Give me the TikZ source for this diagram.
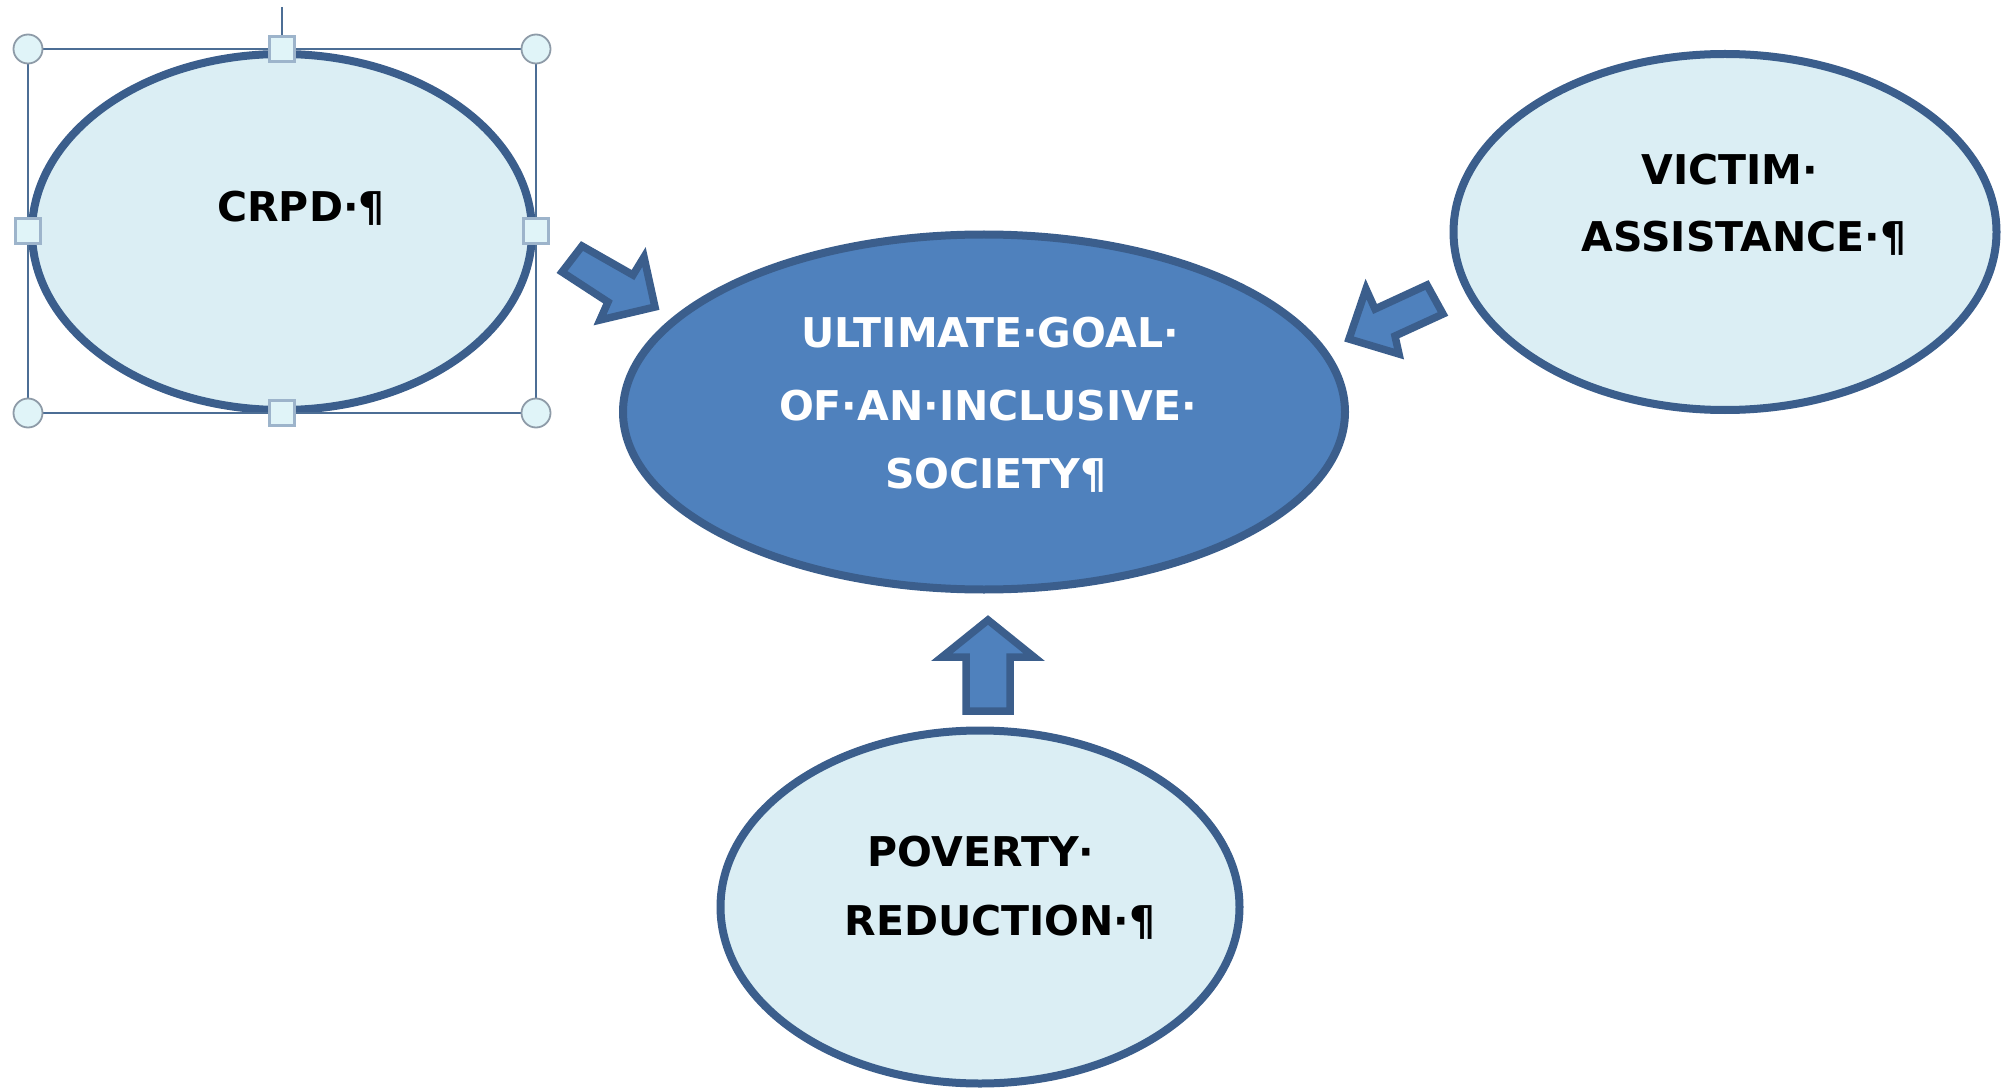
\documentclass[tikz,border=0pt]{standalone}
\usepackage{fontspec}
\setmainfont{DejaVu Sans}
\usetikzlibrary{shapes.geometric}
\definecolor{lightfill}{HTML}{DBEEF4}
\definecolor{edgeblue}{HTML}{3B5E8C}
\definecolor{midblue}{HTML}{4F81BD}
\definecolor{selline}{HTML}{4C6E95}
\definecolor{handlefill}{HTML}{E0F4F8}
\definecolor{handleedge}{HTML}{8E9BA8}
\definecolor{sqedge}{HTML}{9DB4CB}
\begin{document}
\begin{tikzpicture}[x=1pt,y=-1pt,
  bubble/.style={ellipse, draw=edgeblue, line width=8pt, fill=lightfill, inner sep=0pt},
  goalbubble/.style={ellipse, draw=edgeblue, line width=8pt, fill=midblue, inner sep=0pt},
  lbl/.style={anchor=base, inner sep=0pt, font=\fontsize{41}{49}\selectfont\bfseries},
  blockarrow/.style={draw=edgeblue, fill=midblue, line width=7.5pt, line join=miter},
  selbox/.style={draw=selline, line width=2.5pt},
  cornerhandle/.style={circle, draw=handleedge, fill=handlefill, line width=1.8pt, minimum size=29pt, inner sep=0pt},
  sidehandle/.style={rectangle, draw=sqedge, fill=handlefill, line width=2.2pt, minimum width=25pt, minimum height=25pt, inner sep=0pt}
]
\useasboundingbox (0,0) rectangle (2011,1091);

% ellipses
\node[bubble, minimum width=500pt, minimum height=356pt] (crpd) at (282,232) {};
\node[goalbubble, minimum width=722pt, minimum height=355pt] (goal) at (984,412) {};
\node[bubble, minimum width=543pt, minimum height=356pt] (victim) at (1725,232) {};
\node[bubble, minimum width=519pt, minimum height=353pt] (poverty) at (980,907) {};

% texts
\node[lbl] (tcrpd) at (301,222) {CRPD·¶};
\node[lbl, text=white] (tgoal1) at (990,348) {ULTIMATE·GOAL·};
\node[lbl, text=white] (tgoal2) at (988,420) {OF·AN·INCLUSIVE·};
\node[lbl, text=white] (tgoal3) at (996,488) {SOCIETY¶};
\node[lbl] (tvic1) at (1730,185) {VICTIM·};
\node[lbl] (tvic2) at (1744,252) {ASSISTANCE·¶};
\node[lbl] (tpov1) at (981,866) {POVERTY·};
\node[lbl] (tpov2) at (1000,935) {REDUCTION·¶};

% block arrows
\draw[blockarrow] (582,246) -- (633,275) -- (644,257) -- (655,307) -- (600,320) -- (608,302) -- (562,272) -- cycle;
\draw[blockarrow] (1427,285) -- (1443,314) -- (1395,336) -- (1399,354) -- (1349,339) -- (1366,289) -- (1375,309) -- cycle;
\draw[blockarrow] (988,620) -- (1034,657) -- (1010,657) -- (1010,711) -- (966,711) -- (966,657) -- (942,657) -- cycle;

% selection frame around CRPD
\draw[selbox] (28,49) rectangle (536,413);
\coordinate (rot) at (282,7);
\node[sidehandle] (hT) at (282,49) {};
\draw[selbox] (rot) -- (hT.north);
\node[sidehandle] (hB) at (282,413) {};
\node[sidehandle] (hL) at (28,231) {};
\node[sidehandle] (hR) at (536,231) {};
\node[cornerhandle] (hTL) at (28,49) {};
\node[cornerhandle] (hTR) at (536,49) {};
\node[cornerhandle] (hBL) at (28,413) {};
\node[cornerhandle] (hBR) at (536,413) {};
\end{tikzpicture}
\end{document}
